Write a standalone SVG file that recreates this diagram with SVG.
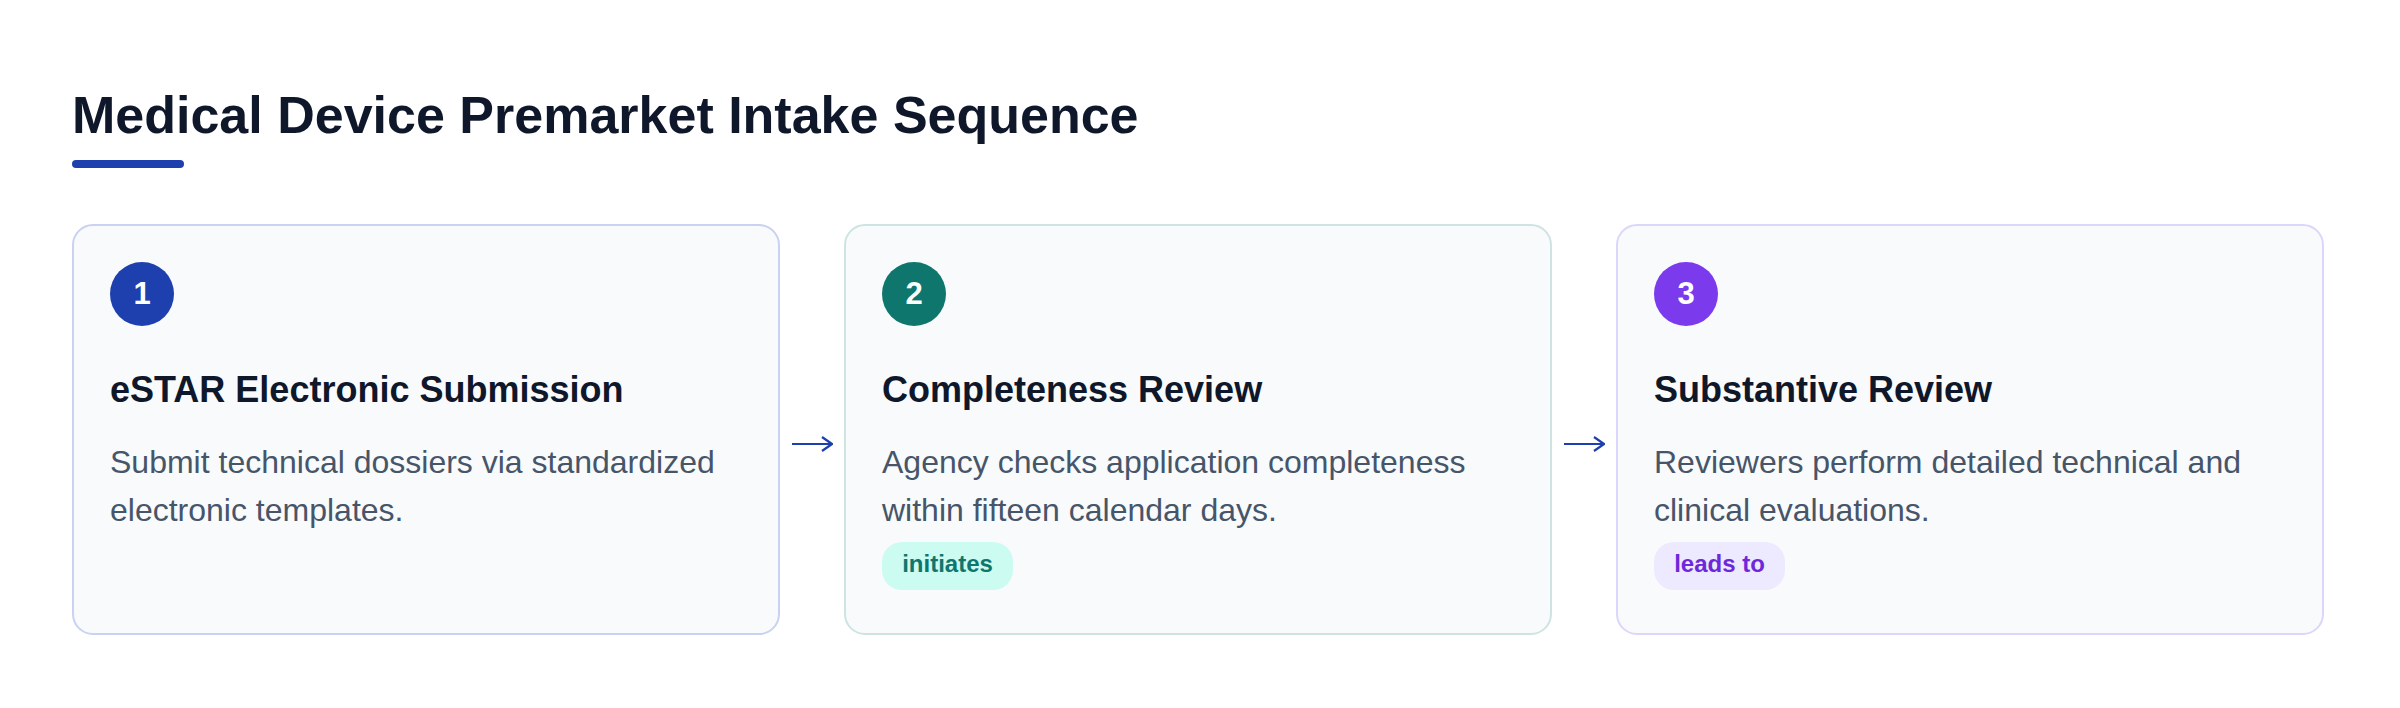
<svg xmlns="http://www.w3.org/2000/svg" width="2400" height="708" viewBox="0 0 2400 708">
<defs>
<style>
text{font-family:"Liberation Sans",Arial,Helvetica,sans-serif}
.title{font-size:52px;font-weight:700;fill:#0f172a}
.card{fill:#f8fafc;stroke-width:2}
.num{font-size:31px;font-weight:700;fill:#ffffff;text-anchor:middle}
.head{font-size:36px;font-weight:700;fill:#0f172a}
.body{font-size:32px;fill:#475569}
.tag{font-size:24px;font-weight:700}
.conn{stroke:#1e40af;stroke-width:2;fill:none}
</style>
<marker id="ah" viewBox="0 0 12 16" refX="11" refY="8" markerWidth="12" markerHeight="16" markerUnits="userSpaceOnUse" orient="auto">
<path d="M1,1 L11,8 L1,15" fill="none" stroke="#1e40af" stroke-width="2.2"/>
</marker>
</defs>
<rect width="2400" height="708" fill="#ffffff"/>
<g id="title">
<text class="title" x="72" y="133">Medical Device Premarket Intake Sequence</text>
<rect x="72" y="160" width="112" height="8" rx="4" fill="#1e40af"/>
</g>
<g id="step1">
<rect class="card" x="73" y="225" width="706" height="409" rx="20" stroke="#c9d2f0"/>
<circle cx="142" cy="294" r="32" fill="#1e40af"/>
<text class="num" x="142" y="304">1</text>
<text class="head" x="110" y="402">eSTAR Electronic Submission</text>
<text class="body" x="110" y="473">Submit technical dossiers via standardized</text>
<text class="body" x="110" y="521">electronic templates.</text>
</g>
<g id="step2">
<rect class="card" x="845" y="225" width="706" height="409" rx="20" stroke="#cde4e2"/>
<circle cx="914" cy="294" r="32" fill="#0f766e"/>
<text class="num" x="914" y="304">2</text>
<text class="head" x="882" y="402">Completeness Review</text>
<text class="body" x="882" y="473">Agency checks application completeness</text>
<text class="body" x="882" y="521">within fifteen calendar days.</text>
<rect x="882" y="542" width="131" height="48" rx="20" fill="#ccfbf1"/>
<text class="tag" x="947.5" y="572" text-anchor="middle" fill="#0f766e">initiates</text>
</g>
<g id="step3">
<rect class="card" x="1617" y="225" width="706" height="409" rx="20" stroke="#ddd6fb"/>
<circle cx="1686" cy="294" r="32" fill="#7c3aed"/>
<text class="num" x="1686" y="304">3</text>
<text class="head" x="1654" y="402">Substantive Review</text>
<text class="body" x="1654" y="473">Reviewers perform detailed technical and</text>
<text class="body" x="1654" y="521">clinical evaluations.</text>
<rect x="1654" y="542" width="131" height="48" rx="20" fill="#ede9fe"/>
<text class="tag" x="1719.5" y="572" text-anchor="middle" fill="#6d28d9">leads to</text>
</g>
<g id="connectors">
<path class="conn" d="M792,444 L832,444" marker-end="url(#ah)"/>
<path class="conn" d="M1564,444 L1604,444" marker-end="url(#ah)"/>
</g>
</svg>
